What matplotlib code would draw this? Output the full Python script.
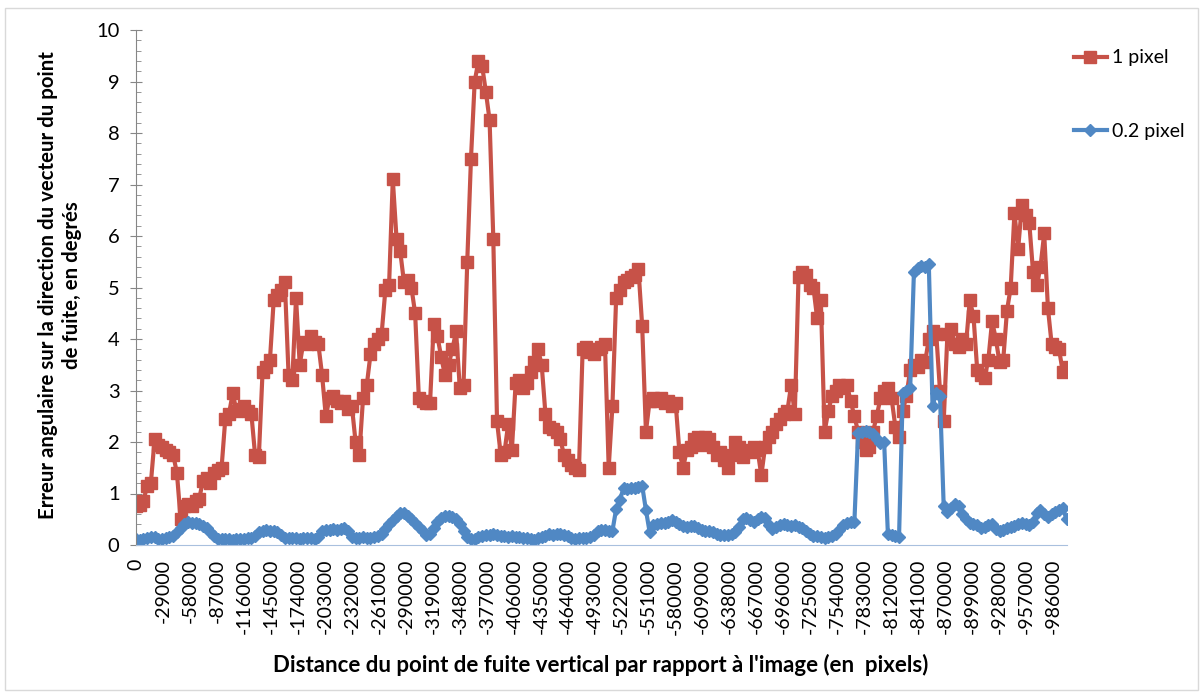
import matplotlib.pyplot as plt
import numpy as np
from matplotlib.patches import Rectangle

plt.rcParams["font.family"] = ["Lato", "DejaVu Sans"]
plt.rcParams["axes.unicode_minus"] = False

# distance du point de fuite vertical (pixels), un point tous les 4000
distance = np.arange(0, -1000001, -4000)

# erreur angulaire (degrés) pour un bruit de 1 pixel
erreur_1px = [
    0.75, 0.78, 0.85, 1.15, 1.2, 2.05, 1.95, 1.9, 1.85, 1.8,
    1.75, 1.4, 0.5, 0.75, 0.8, 0.75, 0.85, 0.9, 1.25, 1.3,
    1.2, 1.4, 1.45, 1.5, 2.45, 2.55, 2.95, 2.6, 2.65, 2.7,
    2.6, 2.55, 1.75, 1.7, 3.35, 3.45, 3.6, 4.75, 4.85, 4.95,
    5.1, 3.3, 3.2, 4.8, 3.5, 3.95, 3.9, 4.05, 3.95, 3.9,
    3.3, 2.5, 2.85, 2.9, 2.8, 2.75, 2.8, 2.65, 2.7, 2.0,
    1.75, 2.85, 3.1, 3.7, 3.9, 4.0, 4.1, 4.95, 5.05, 7.1,
    5.95, 5.7, 5.1, 5.15, 5.0, 4.5, 2.85, 2.8, 2.75, 2.75,
    4.3, 4.05, 3.65, 3.3, 3.5, 3.8, 4.15, 3.05, 3.1, 5.5,
    7.5, 9.0, 9.4, 9.3, 8.8, 8.25, 5.95, 2.4, 1.75, 1.8,
    2.35, 1.85, 3.15, 3.2, 3.05, 3.15, 3.35, 3.55, 3.8, 3.5,
    2.55, 2.3, 2.25, 2.2, 2.05, 1.75, 1.65, 1.55, 1.5, 1.45,
    3.8, 3.85, 3.75, 3.7, 3.8, 3.85, 3.9, 1.5, 2.7, 4.8,
    4.95, 5.1, 5.15, 5.2, 5.25, 5.35, 4.25, 2.2, 2.8, 2.85,
    2.8, 2.85, 2.75, 2.8, 2.7, 2.75, 1.8, 1.5, 1.85, 1.9,
    2.05, 2.1, 1.95, 2.1, 2.05, 1.9, 1.75, 1.8, 1.65, 1.5,
    1.75, 2.0, 1.9, 1.7, 1.85, 1.8, 1.9, 1.85, 1.35, 1.9,
    2.1, 2.2, 2.35, 2.45, 2.55, 2.6, 3.1, 2.55, 5.2, 5.3,
    5.25, 5.05, 5.0, 4.4, 4.75, 2.2, 2.6, 2.9, 3.0, 3.1,
    3.05, 3.1, 2.8, 2.5, 2.2, 2.0, 1.85, 1.9, 2.2, 2.5,
    2.85, 3.0, 3.05, 2.85, 2.3, 2.1, 2.6, 2.9, 3.4, 3.5,
    3.45, 3.6, 3.55, 4.0, 4.15, 4.1, 3.0, 2.4, 4.1, 4.2,
    3.9, 3.85, 4.0, 3.9, 4.75, 4.45, 3.4, 3.3, 3.25, 3.6,
    4.35, 4.0, 3.55, 3.6, 4.55, 5.0, 6.45, 5.75, 6.6, 6.4,
    6.25, 5.3, 5.05, 5.4, 6.05, 4.6, 3.9, 3.85, 3.8, 3.35,
    3.45,
]

# erreur angulaire (degrés) pour un bruit de 0.2 pixel
erreur_02px = [
    0.12, 0.1, 0.12, 0.13, 0.15, 0.16, 0.12, 0.12, 0.14, 0.15,
    0.18, 0.25, 0.33, 0.4, 0.44, 0.43, 0.42, 0.4, 0.37, 0.33,
    0.26, 0.18, 0.12, 0.11, 0.12, 0.11, 0.1, 0.11, 0.12, 0.12,
    0.13, 0.14, 0.18, 0.25, 0.28, 0.29, 0.28, 0.27, 0.25, 0.2,
    0.14, 0.13, 0.14, 0.13, 0.12, 0.13, 0.14, 0.13, 0.12, 0.16,
    0.27, 0.3, 0.3, 0.31, 0.3, 0.32, 0.33, 0.28, 0.16, 0.13,
    0.14, 0.15, 0.14, 0.13, 0.15, 0.17, 0.22, 0.32, 0.4, 0.48,
    0.57, 0.63, 0.62, 0.57, 0.5, 0.42, 0.35, 0.27, 0.2, 0.22,
    0.33, 0.45, 0.53, 0.57, 0.57, 0.55, 0.5, 0.4, 0.28, 0.16,
    0.11, 0.12, 0.16, 0.18, 0.2, 0.19, 0.21, 0.2, 0.18, 0.17,
    0.16, 0.17, 0.15, 0.16, 0.14, 0.13, 0.12, 0.1, 0.13, 0.15,
    0.18, 0.22, 0.2, 0.22, 0.21, 0.2, 0.17, 0.13, 0.12, 0.13,
    0.14, 0.13, 0.15, 0.2, 0.28, 0.3, 0.3, 0.28, 0.27, 0.7,
    0.88, 1.1, 1.08, 1.1, 1.1, 1.12, 1.15, 0.68, 0.25, 0.38,
    0.4, 0.42, 0.43, 0.45, 0.48, 0.45, 0.4, 0.36, 0.35, 0.37,
    0.36, 0.33, 0.3, 0.28, 0.27, 0.25, 0.22, 0.2, 0.19, 0.2,
    0.22, 0.25, 0.35, 0.5, 0.52, 0.48, 0.44, 0.5, 0.55, 0.52,
    0.38, 0.32, 0.35, 0.38, 0.4, 0.38, 0.36, 0.38, 0.35, 0.33,
    0.28, 0.22, 0.18, 0.17, 0.15, 0.14, 0.16, 0.18, 0.22, 0.3,
    0.38, 0.42, 0.45, 0.44, 2.18, 2.2, 2.22, 2.2, 2.15, 2.05,
    1.98, 2.0, 0.22, 0.2, 0.17, 0.15, 2.95, 3.0, 3.05, 5.3,
    5.38, 5.42, 5.4, 5.45, 2.7, 2.95, 2.9, 0.75, 0.65, 0.72,
    0.8, 0.75, 0.6, 0.5, 0.42, 0.4, 0.38, 0.33, 0.35, 0.38,
    0.4, 0.32, 0.27, 0.3, 0.33, 0.35, 0.37, 0.4, 0.42, 0.4,
    0.38, 0.45, 0.62, 0.68, 0.6, 0.55, 0.6, 0.65, 0.68, 0.72,
    0.5,
]

# étiquettes de l'axe des catégories, toutes les 29000
etiquettes = list(range(0, -1000000, -29000))

fig = plt.figure(figsize=(12.02, 6.93), dpi=100)
ax = fig.add_axes([135.5 / 1202, 1 - 545 / 693, (1067 - 135.5) / 1202, (545 - 30) / 693])

# position sur l'axe = numéro de catégorie (pas de 1000 pixels)
x = -distance / 1000
ax.plot(x, erreur_1px, color="#C75248", lw=3, marker="s", ms=8.5, mec="#C75248", label="1 pixel")
ax.plot(x, erreur_02px, color="#5088C4", lw=3, marker="D", ms=6.3, mec="#5088C4", label="0.2 pixel")

ax.set_xlim(-0.5, 1000.5)
ax.set_ylim(0, 10)

ax.set_xticks([-e / 1000 for e in etiquettes])
ax.set_xticklabels([str(e) for e in etiquettes], rotation=90)
ax.tick_params(axis="x", length=0, pad=10, labelsize=14)

ax.set_yticks(range(0, 11))
ax.set_yticks(np.arange(0, 10.01, 0.2), minor=True)
ax.tick_params(axis="y", which="major", direction="inout", length=9, color="#868686", labelsize=14.5, pad=7)
ax.tick_params(axis="y", which="minor", direction="in", length=3.5, color="#868686")

for s in ["top", "right"]:
    ax.spines[s].set_visible(False)
ax.spines["left"].set_color("#868686")
ax.spines["bottom"].set_color("#A9C0DE")

fig.text(60 / 1202, 1 - 285 / 693,
         "Erreur angulaire sur la direction du vecteur du point\nde fuite, en degrés",
         rotation=90, ha="center", va="center", multialignment="center",
         fontsize=14.7, fontweight="bold", linespacing=1.3)
fig.text(601 / 1202, 1 - 665 / 693,
         "Distance du point de fuite vertical par rapport à l'image (en  pixels)",
         ha="center", va="center", fontsize=16, fontweight="bold")

fig.legend(loc="upper left", bbox_to_anchor=(1056 / 1202, 1 - 32 / 693), frameon=False,
           fontsize=14, labelspacing=2.9, handlelength=1.7, handletextpad=0.3)

# cadre gris autour du graphique
fig.add_artist(Rectangle((5 / 1202, 3 / 693), 1193 / 1202, 682 / 693, transform=fig.transFigure,
                         fill=False, edgecolor="#D9D9D9", lw=1))

fig.savefig("out.png", dpi=100)
